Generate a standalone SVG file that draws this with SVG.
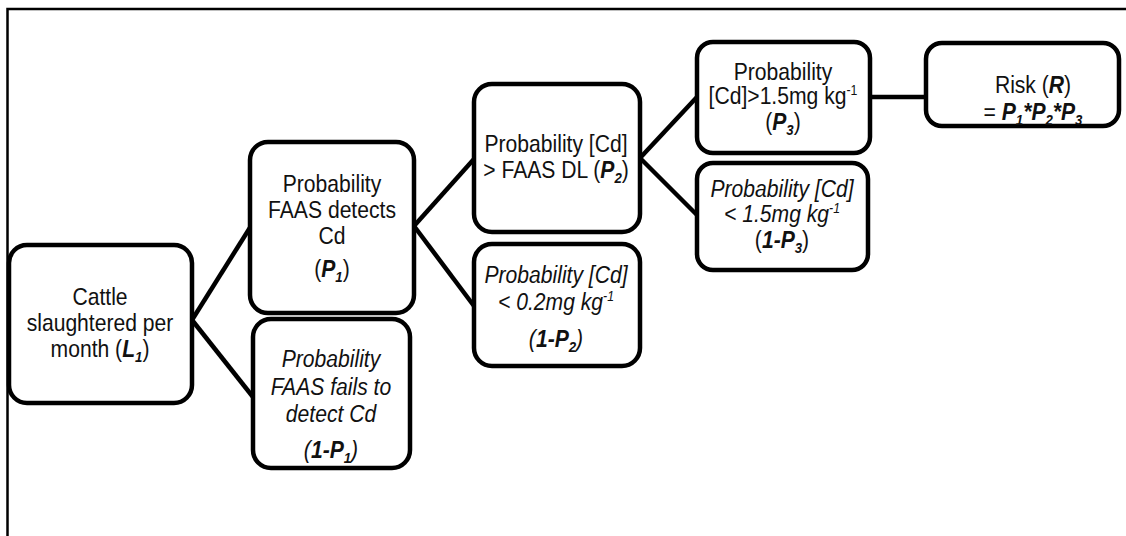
<svg xmlns="http://www.w3.org/2000/svg" width="1126" height="536" viewBox="0 0 1126 536">
<style>
.box{fill:#fff;stroke:#000;stroke-width:4.5}
.t{font-family:"Liberation Sans",Arial,sans-serif;font-size:24px;fill:#111;text-anchor:middle}
.i{font-style:italic}
.b{font-weight:bold;font-style:italic}
.s{font-size:15px}
.u{font-size:14px}
.c{stroke:#000;stroke-width:4.5;fill:none}
</style>
<rect width="1126" height="536" fill="#fff"/>
<path d="M7.5 536 V9 H1126" fill="none" stroke="#000" stroke-width="2.5"/>
<g id="connectors">
<line class="c" x1="192" y1="320" x2="251" y2="226"/>
<line class="c" x1="192" y1="320" x2="253" y2="397"/>
<line class="c" x1="414" y1="226" x2="474" y2="159"/>
<line class="c" x1="414" y1="226" x2="474" y2="306"/>
<line class="c" x1="640" y1="158" x2="697" y2="97"/>
<line class="c" x1="640" y1="158" x2="697" y2="215"/>
<line class="c" x1="870" y1="97" x2="925" y2="97"/>
</g>
<g id="L1">
<rect class="box" x="9" y="245" width="183" height="158" rx="18"/>
<g transform="translate(100 0) scale(0.88 1)">
<text class="t" x="0" y="305">Cattle</text>
<text class="t" x="0" y="331">slaughtered per</text>
<text class="t" x="0" y="357">month (<tspan class="b">L</tspan><tspan class="b s" dy="5">1</tspan><tspan dy="-5">)</tspan></text>
</g>
</g>
<g id="P1">
<rect class="box" x="250" y="142" width="164" height="171" rx="18"/>
<g transform="translate(332 0) scale(0.88 1)">
<text class="t" x="0" y="192">Probability</text>
<text class="t" x="0" y="218">FAAS detects</text>
<text class="t" x="0" y="244">Cd</text>
<text class="t" x="0" y="277">(<tspan class="b">P</tspan><tspan class="b s" dy="5">1</tspan><tspan dy="-5">)</tspan></text>
</g>
</g>
<g id="notP1">
<rect class="box" x="253" y="319" width="157" height="149" rx="18"/>
<g transform="translate(331 0) scale(0.88 1)">
<text class="t i" x="0" y="367">Probability</text>
<text class="t i" x="0" y="395">FAAS fails to</text>
<text class="t i" x="0" y="422">detect Cd</text>
<text class="t i" x="0" y="458">(<tspan class="b">1-P</tspan><tspan class="b s" dy="5">1</tspan><tspan dy="-5">)</tspan></text>
</g>
</g>
<g id="P2">
<rect class="box" x="474" y="84" width="166" height="148" rx="18"/>
<g transform="translate(556 0) scale(0.88 1)">
<text class="t" x="0" y="152">Probability [Cd]</text>
<text class="t" x="0" y="178">&gt; FAAS DL (<tspan class="b">P</tspan><tspan class="b s" dy="5">2</tspan><tspan dy="-5">)</tspan></text>
</g>
</g>
<g id="notP2">
<rect class="box" x="474" y="244" width="166" height="122" rx="18"/>
<g transform="translate(556 0) scale(0.88 1)">
<text class="t i" x="0" y="283">Probability [Cd]</text>
<text class="t i" x="0" y="310">&lt; 0.2mg kg<tspan class="u" dy="-9">-1</tspan></text>
<text class="t i" x="0" y="347">(<tspan class="b">1-P</tspan><tspan class="b s" dy="5">2</tspan><tspan dy="-5">)</tspan></text>
</g>
</g>
<g id="P3">
<rect class="box" x="697" y="42" width="173" height="111" rx="16"/>
<g transform="translate(783 0) scale(0.88 1)">
<text class="t" x="0" y="80">Probability</text>
<text class="t" x="0" y="104">[Cd]&gt;1.5mg kg<tspan class="u" dy="-9">-1</tspan></text>
<text class="t" x="0" y="130">(<tspan class="b">P</tspan><tspan class="b s" dy="5">3</tspan><tspan dy="-5">)</tspan></text>
</g>
</g>
<g id="notP3">
<rect class="box" x="697" y="163" width="171" height="107" rx="16"/>
<g transform="translate(782 0) scale(0.88 1)">
<text class="t i" x="0" y="197">Probability [Cd]</text>
<text class="t i" x="0" y="222">&lt; 1.5mg kg<tspan class="u" dy="-9">-1</tspan></text>
<text class="t" x="0" y="248">(<tspan class="b">1-P</tspan><tspan class="b s" dy="5">3</tspan><tspan dy="-5">)</tspan></text>
</g>
</g>
<g id="R">
<rect class="box" x="926" y="43" width="193" height="83" rx="16"/>
<g transform="translate(1033 0) scale(0.88 1)">
<text class="t" x="0" y="93">Risk (<tspan class="b">R</tspan>)</text>
<text class="t" x="0" y="120">= <tspan class="b">P</tspan><tspan class="b s" dy="5">1</tspan><tspan class="b" dy="-5">*</tspan><tspan class="b">P</tspan><tspan class="b s" dy="5">2</tspan><tspan class="b" dy="-5">*</tspan><tspan class="b">P</tspan><tspan class="b s" dy="5">3</tspan></text>
</g>
</g>
</svg>
